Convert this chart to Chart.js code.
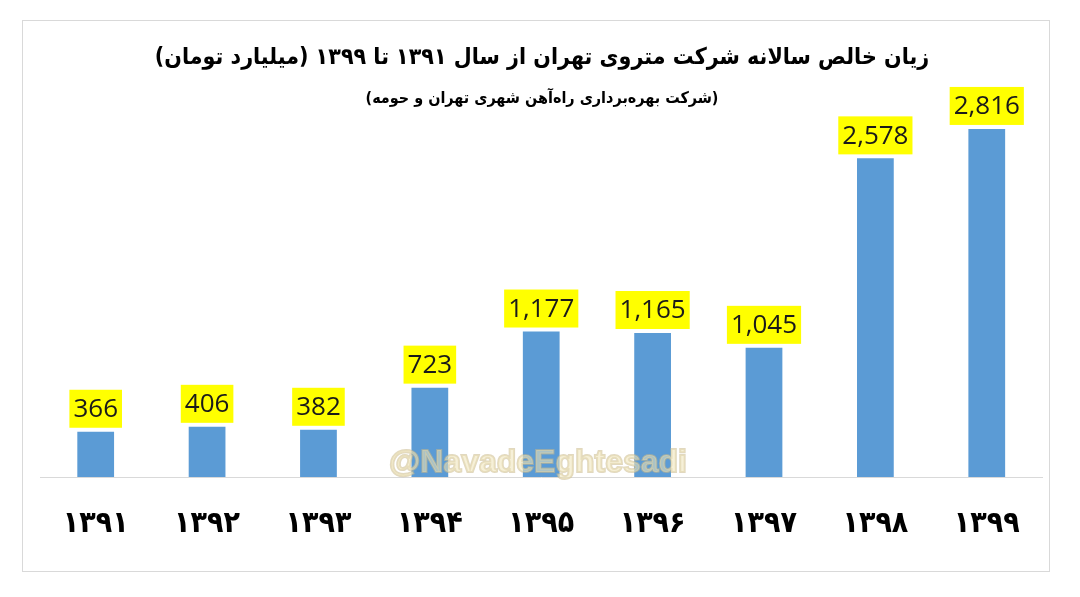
<!DOCTYPE html>
<html>
<head>
<meta charset="utf-8">
<script src="https://cdn.jsdelivr.net/npm/chart.js@4.4.1/dist/chart.umd.min.js"></script>
<style>
  html, body { margin: 0; padding: 0; background: #fff; }
  #box { position: absolute; left: 22px; top: 20px; width: 1028px; height: 552px;
         border: 1px solid #d9d9d9; box-sizing: border-box; }
  #myChart { display: block; }
</style>
</head>
<body>
<div id="box"><canvas id="myChart" dir="rtl" width="1026" height="550"></canvas></div>
<script>
// years (Persian calendar) and net loss, billion toman
const years = ['۱۳۹۱', '۱۳۹۲', '۱۳۹۳', '۱۳۹۴', '۱۳۹۵', '۱۳۹۶', '۱۳۹۷', '۱۳۹۸', '۱۳۹۹'];
const losses = [366, 406, 382, 723, 1177, 1165, 1045, 2578, 2816];
const titleText = '\u200Fزیان خالص سالانه شرکت متروی تهران از سال ۱۳۹۱ تا ۱۳۹۹ (میلیارد تومان)\u200F';
const subText = '\u200F(شرکت بهره‌برداری راه‌آهن شهری تهران و حومه)\u200F';
const handle = '@NavadeEghtesadi';

// yellow value boxes over each bar
const valueBoxes = {
  id: 'valueBoxes',
  afterDatasetsDraw(chart) {
    const c = chart.ctx;
    const meta = chart.getDatasetMeta(0);
    c.save();
    c.direction = 'ltr';
    c.font = '26px "Open Sans"';
    c.textAlign = 'center';
    c.textBaseline = 'middle';
    meta.data.forEach(function (bar, i) {
      var txt = losses[i].toLocaleString('en-US');
      var w = c.measureText(txt).width + 8;
      var h = 38;
      var bottom = bar.y - 4;
      c.fillStyle = '#ffff00';
      c.fillRect(bar.x - w / 2, bottom - h, w, h);
      c.fillStyle = '#1a1a1a';
      c.fillText(txt, bar.x, bottom - h / 2 + 1);
    });
    c.restore();
  }
};

// faint handle text, like the one on the picture
const handleMark = {
  id: 'handleMark',
  afterDraw(chart) {
    const c = chart.ctx;
    c.save();
    c.direction = 'ltr';
    c.font = 'bold 32px "Liberation Sans"';
    c.textAlign = 'center';
    c.textBaseline = 'middle';
    c.globalAlpha = 0.55;
    c.lineWidth = 2;
    c.strokeStyle = '#c8b88a';
    c.fillStyle = '#efe3b8';
    c.strokeText(handle, 515, 442);
    c.fillText(handle, 515, 442);
    c.restore();
  }
};

var ctx = document.getElementById('myChart').getContext('2d');
new Chart(ctx, {
  type: 'bar',
  data: {
    labels: years,
    datasets: [{
      data: losses,
      backgroundColor: '#5b9bd5',
      barPercentage: 0.33,
      categoryPercentage: 1
    }]
  },
  options: {
    responsive: false,
    animation: false,
    layout: { padding: { left: 17, right: 5, top: 0, bottom: 0 } },
    plugins: {
      legend: { display: false },
      tooltip: { enabled: false },
      title: {
        display: true,
        text: titleText,
        color: '#000',
        font: { family: '"DejaVu Sans Condensed"', size: 23, weight: 'bold', lineHeight: 1.2 },
        padding: { top: 23, bottom: 0 }
      },
      subtitle: {
        display: true,
        text: subText,
        color: '#000',
        font: { family: '"DejaVu Sans Condensed"', size: 16, weight: 'bold', lineHeight: 1.2 },
        padding: { top: 18, bottom: 11 }
      }
    },
    scales: {
      x: {
        grid: { display: false, drawTicks: false },
        border: { display: true, color: '#d9d9d9', width: 1 },
        ticks: {
          color: '#000',
          padding: 29,
          font: { family: '"DejaVu Sans Condensed"', size: 30, weight: 'bold', lineHeight: 1.2 }
        }
      },
      y: {
        display: false,
        min: 0,
        max: 2890
      }
    }
  },
  plugins: [valueBoxes, handleMark]
});
</script>
</body>
</html>
